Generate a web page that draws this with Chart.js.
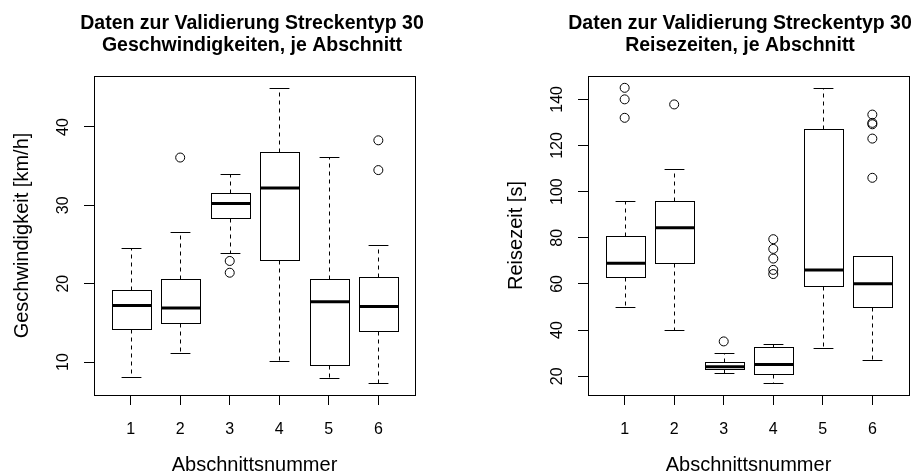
<!DOCTYPE html>
<html lang="de">
<head>
<meta charset="utf-8">
<title>Streckentyp 30</title>
<script src="https://cdn.jsdelivr.net/npm/chart.js@4.4.1/dist/chart.umd.min.js"></script>
<style>
  html, body { margin: 0; padding: 0; background: #fff; overflow: hidden; width: 922px; height: 475px; }
  .panel { position: absolute; top: 0; height: 475px; }
  #links { left: 0; width: 504px; }
  #rechts { left: 461px; width: 558px; }
</style>
</head>
<body>
<div class="panel" id="links"><canvas id="vChart"></canvas></div>
<div class="panel" id="rechts"><canvas id="tChart"></canvas></div>
<script>
const abschnitte = [1, 2, 3, 4, 5, 6];

// Geschwindigkeiten [km/h]
const vTicks  = [10, 20, 30, 40];
const vLow    = [8.1, 11.1, 23.9, 10.1, 8.0, 7.3];
const vQ1     = [14.2, 15.0, 28.35, 23.0, 9.6, 13.9];
const vMedian = [17.2, 16.9, 30.25, 32.2, 17.7, 17.1];
const vQ3     = [19.2, 20.6, 31.6, 36.8, 20.6, 20.8];
const vHigh   = [24.5, 26.6, 34.0, 45.0, 36.2, 24.9];
const vOut    = [[], [36.1], [22.9, 21.4], [], [], [38.3, 34.5]];

// Reisezeiten [s]
const tTicks  = [20, 40, 60, 80, 100, 120, 140];
const tLow    = [50.0, 40.2, 21.2, 17.0, 32.1, 27.1];
const tQ1     = [63.0, 69.1, 23.0, 21.0, 59.1, 50.0];
const tMedian = [69.0, 84.4, 24.1, 25.1, 66.1, 60.1];
const tQ3     = [80.9, 95.9, 26.0, 32.7, 127.0, 71.9];
const tHigh   = [95.9, 109.9, 29.9, 33.8, 145.0, 71.9];
const tOut    = [[145.0, 140.0, 132.0], [137.8], [35.1], [79.4, 75.2, 71.0, 66.1, 64.3], [], [133.4, 129.8, 129.2, 123.0, 106.0]];

Chart.defaults.font.family = '"Liberation Sans", Arial, Helvetica, sans-serif';
Chart.defaults.color = '#000';

const crisp = v => Math.round(v) + 0.5;

// whiskers, staples, boxes and medians, drawn through the chart scales
function makeBoxplot(s) {
  return {
    id: 'boxplot',
    beforeDatasetsDraw(chart) {
      const { ctx, chartArea: a, scales: { x, y } } = chart;
      const seg = (x1, y1, x2, y2) => {
        ctx.beginPath(); ctx.moveTo(x1, y1); ctx.lineTo(x2, y2); ctx.stroke();
      };
      ctx.save();
      ctx.strokeStyle = '#000';
      abschnitte.forEach((n, i) => {
        const cx = crisp(x.getPixelForValue(n));
        const half = x.getPixelForValue(n + 0.4) - x.getPixelForValue(n);
        const yLo = crisp(y.getPixelForValue(s.low[i]));
        const y1 = crisp(y.getPixelForValue(s.q1[i]));
        const yMed = y.getPixelForValue(s.med[i]);
        const y3 = crisp(y.getPixelForValue(s.q3[i]));
        const yHi = crisp(y.getPixelForValue(s.high[i]));

        ctx.lineWidth = 1;
        ctx.setLineDash([4, 4]);
        seg(cx, y3, cx, yHi);
        seg(cx, y1, cx, yLo);
        ctx.setLineDash([]);
        seg(cx - half / 2, yHi, cx + half / 2, yHi);
        seg(cx - half / 2, yLo, cx + half / 2, yLo);

        const l = crisp(cx - half), r = crisp(cx + half);
        ctx.fillStyle = '#fff';
        ctx.fillRect(l, y3, r - l, y1 - y3);
        ctx.strokeRect(l, y3, r - l, y1 - y3);

        ctx.lineWidth = 3;
        ctx.lineCap = 'butt';
        seg(l, yMed, r, yMed);
      });
      ctx.lineWidth = 1;
      ctx.strokeRect(crisp(a.left), crisp(a.top), Math.round(a.right - a.left), Math.round(a.bottom - a.top));
      ctx.restore();
    }
  };
}

// value range as the plotting device does it: data range plus 4 % on each side
function range4(lo, hi) {
  const d = (hi - lo) * 0.04;
  return [lo - d, hi + d];
}

function makeChart(id, cfg) {
  const s = cfg.stats;
  const all = s.low.concat(s.high, ...s.out);
  const [yMin, yMax] = range4(Math.min(...all), Math.max(...all));
  const [xMin, xMax] = range4(0.5, abschnitte.length + 0.5);
  const points = s.out.flatMap((arr, i) => arr.map(v => ({ x: abschnitte[i], y: v })));

  return new Chart(document.getElementById(id), {
    type: 'scatter',
    data: {
      datasets: [{
        data: points,
        pointRadius: 4.5,
        pointHoverRadius: 4.5,
        borderWidth: 1,
        borderColor: '#000',
        backgroundColor: 'rgba(0,0,0,0)'
      }]
    },
    options: {
      responsive: true,
      maintainAspectRatio: false,
      animation: false,
      events: [],
      layout: { padding: 0 },
      plugins: {
        legend: { display: false },
        tooltip: { enabled: false },
        title: {
          display: true,
          text: ['Daten zur Validierung Streckentyp 30', cfg.subtitle],
          color: '#000',
          font: { size: 19.5, weight: 'bold', lineHeight: 1.1 },
          padding: { top: 13.3, bottom: 19.8 }
        }
      },
      scales: {
        x: {
          type: 'linear',
          min: xMin,
          max: xMax,
          afterBuildTicks: sc => { sc.ticks = abschnitte.map(v => ({ value: v })); },
          afterFit: sc => { sc.height = 80; },
          grid: { drawOnChartArea: false, drawTicks: true, tickLength: 10, color: '#000' },
          border: { display: false },
          ticks: { padding: 15, font: { size: 16 }, color: '#000', maxRotation: 0 },
          title: {
            display: true, text: 'Abschnittsnummer', color: '#000',
            font: { size: 20, lineHeight: 1 }, padding: { top: 0, bottom: 0 }
          }
        },
        y: {
          type: 'linear',
          min: yMin,
          max: yMax,
          afterBuildTicks: sc => { sc.ticks = cfg.ticks.map(v => ({ value: v })); },
          afterFit: sc => { sc.width = cfg.axisWidth; },
          grid: { drawOnChartArea: false, drawTicks: true, tickLength: 10, color: '#000' },
          border: { display: false },
          ticks: {
            minRotation: 90, maxRotation: 90, crossAlign: 'center',
            padding: cfg.tickPad, font: { size: 16 }, color: '#000'
          },
          title: {
            display: true, text: cfg.yTitle, color: '#000',
            font: { size: 20, lineHeight: 1 }, padding: { top: cfg.titlePad, bottom: 0 }
          }
        },
        // empty right margin of the plot region
        rand: {
          type: 'linear',
          axis: 'y',
          position: 'right',
          ticks: { display: false },
          grid: { display: false },
          border: { display: false },
          afterFit: sc => { sc.width = cfg.marginRight; }
        }
      }
    },
    plugins: [makeBoxplot(s)]
  });
}

makeChart('vChart', {
  subtitle: 'Geschwindigkeiten, je Abschnitt',
  yTitle: 'Geschwindigkeit [km/h]',
  ticks: vTicks,
  stats: { low: vLow, q1: vQ1, med: vMedian, q3: vQ3, high: vHigh, out: vOut },
  axisWidth: 94, marginRight: 89, tickPad: 11.5, titlePad: 12.5
});

makeChart('tChart', {
  subtitle: 'Reisezeiten, je Abschnitt',
  yTitle: 'Reisezeit [s]',
  ticks: tTicks,
  stats: { low: tLow, q1: tQ1, med: tMedian, q3: tQ3, high: tHigh, out: tOut },
  axisWidth: 127, marginRight: 110, tickPad: 7, titlePad: 45
});
</script>
</body>
</html>
